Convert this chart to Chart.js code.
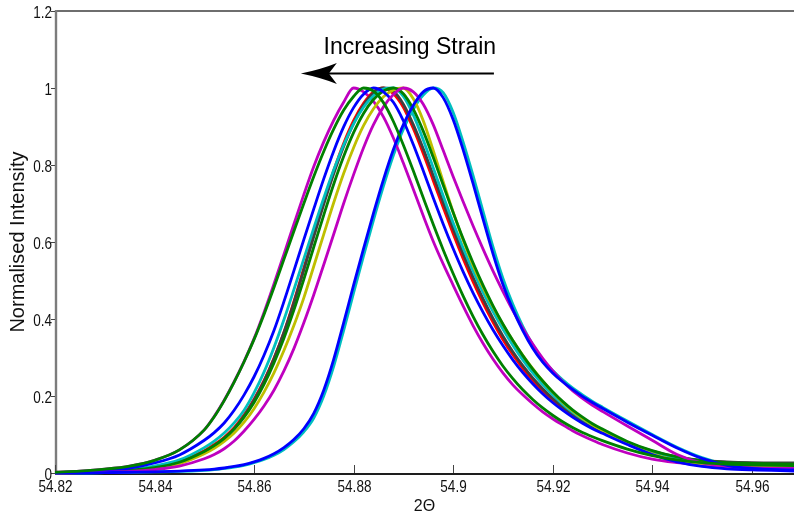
<!DOCTYPE html>
<html>
<head>
<meta charset="utf-8">
<script src="https://cdn.jsdelivr.net/npm/chart.js@4.4.0/dist/chart.umd.min.js"></script>
<style>
  html, body { margin: 0; padding: 0; background: #ffffff; }
  #wrap { width: 794px; height: 518px; }
</style>
</head>
<body>
<div id="wrap"><canvas id="chart" width="794" height="518"></canvas></div>
<script>
// 2-theta sampling positions (degrees)
const twoTheta = [
  54.820, 54.825, 54.830, 54.835, 54.840, 54.845,
  54.850, 54.852, 54.854, 54.856, 54.858, 54.860, 54.862, 54.864, 54.866, 54.868,
  54.870, 54.872, 54.874, 54.876, 54.878, 54.880, 54.882, 54.884, 54.886, 54.888,
  54.890, 54.892, 54.894, 54.896, 54.898, 54.900, 54.902, 54.904, 54.906, 54.908,
  54.910, 54.912, 54.914, 54.916, 54.918, 54.920, 54.922, 54.924, 54.926, 54.928,
  54.930, 54.935, 54.940, 54.945, 54.950, 54.955, 54.960, 54.9685
];

// Normalised peak profiles, one array per scan
const scanMagentaA = [
  0.002,0.005,0.010,0.018,0.033,0.060,
  0.112,0.147,0.189,0.237,0.290,0.349,0.417,0.491,0.568,0.646,
  0.723,0.796,0.860,0.916,0.963,1.000,0.990,0.965,0.925,0.870,
  0.805,0.737,0.668,0.602,0.543,0.488,0.434,0.383,0.337,0.296,
  0.260,0.229,0.203,0.180,0.159,0.141,0.125,0.110,0.097,0.085,
  0.074,0.052,0.036,0.027,0.021,0.017,0.014,0.012
];
const scanGreenA = [
  0.002,0.005,0.010,0.018,0.033,0.060,
  0.112,0.146,0.188,0.236,0.289,0.347,0.412,0.482,0.555,0.628,
  0.700,0.770,0.835,0.893,0.942,0.978,1.000,0.992,0.962,0.913,
  0.852,0.785,0.715,0.646,0.580,0.518,0.460,0.407,0.359,0.316,
  0.278,0.245,0.216,0.191,0.169,0.150,0.133,0.118,0.105,0.094,
  0.084,0.062,0.045,0.034,0.027,0.023,0.021,0.019
];
const scanBlueA = [
  0.001,0.003,0.006,0.013,0.026,0.047,
  0.085,0.105,0.130,0.163,0.203,0.250,0.306,0.370,0.445,0.525,
  0.606,0.686,0.764,0.836,0.899,0.949,0.984,1.000,0.990,0.963,
  0.915,0.853,0.785,0.715,0.647,0.583,0.523,0.468,0.418,0.372,
  0.331,0.294,0.261,0.232,0.206,0.183,0.163,0.145,0.129,0.115,
  0.103,0.074,0.048,0.029,0.017,0.011,0.008,0.005
];
const scanRed = [
  0.000,0.001,0.003,0.007,0.015,0.030,
  0.058,0.074,0.093,0.118,0.151,0.192,0.240,0.298,0.365,0.445,
  0.532,0.620,0.705,0.785,0.856,0.915,0.960,0.990,1.000,0.985,
  0.950,0.895,0.830,0.760,0.690,0.622,0.557,0.497,0.442,0.392,
  0.347,0.307,0.272,0.241,0.214,0.190,0.169,0.151,0.135,0.120,
  0.107,0.078,0.055,0.040,0.031,0.027,0.025,0.024
];
const scanGrey = [
  0.000,0.001,0.003,0.006,0.014,0.028,
  0.055,0.071,0.090,0.115,0.148,0.189,0.238,0.297,0.365,0.442,
  0.527,0.614,0.698,0.777,0.848,0.908,0.955,0.987,1.000,0.992,
  0.958,0.905,0.842,0.773,0.703,0.635,0.570,0.509,0.453,0.402,
  0.356,0.315,0.279,0.247,0.219,0.194,0.172,0.153,0.136,0.121,
  0.108,0.079,0.057,0.042,0.033,0.029,0.027,0.026
];
const scanCyanA = [
  0.000,0.002,0.004,0.009,0.018,0.034,
  0.066,0.083,0.104,0.130,0.163,0.208,0.262,0.326,0.398,0.476,
  0.556,0.636,0.714,0.787,0.852,0.907,0.950,0.980,0.997,1.000,
  0.978,0.930,0.865,0.793,0.720,0.650,0.585,0.525,0.470,0.420,
  0.374,0.332,0.294,0.260,0.230,0.203,0.179,0.158,0.140,0.125,
  0.111,0.080,0.055,0.038,0.028,0.023,0.020,0.018
];
const scanYellow = [
  0.000,0.001,0.002,0.005,0.012,0.024,
  0.050,0.064,0.082,0.104,0.132,0.167,0.210,0.260,0.318,0.383,
  0.455,0.537,0.620,0.702,0.778,0.845,0.902,0.946,0.977,0.995,
  1.000,0.972,0.915,0.838,0.757,0.678,0.605,0.540,0.483,0.432,
  0.386,0.344,0.306,0.271,0.239,0.210,0.184,0.161,0.142,0.125,
  0.111,0.078,0.050,0.033,0.024,0.020,0.018,0.016
];
const scanGreenB = [
  0.000,0.001,0.003,0.007,0.014,0.028,
  0.056,0.071,0.090,0.114,0.145,0.183,0.230,0.286,0.350,0.423,
  0.503,0.587,0.670,0.750,0.822,0.884,0.934,0.970,0.992,1.000,
  0.985,0.945,0.888,0.820,0.748,0.677,0.609,0.546,0.488,0.435,
  0.387,0.344,0.305,0.270,0.239,0.211,0.186,0.164,0.145,0.128,
  0.114,0.082,0.058,0.042,0.032,0.027,0.025,0.023
];
const scanMagentaB = [
  0.000,0.001,0.002,0.004,0.009,0.018,
  0.037,0.048,0.063,0.083,0.109,0.139,0.174,0.215,0.265,0.323,
  0.390,0.463,0.541,0.620,0.700,0.775,0.845,0.905,0.951,0.983,
  1.000,0.990,0.958,0.905,0.838,0.770,0.705,0.642,0.582,0.525,
  0.472,0.422,0.376,0.335,0.298,0.266,0.238,0.214,0.194,0.176,
  0.160,0.122,0.085,0.048,0.026,0.018,0.014,0.012
];
const scanBlueB = [
  0.000,0.000,0.001,0.002,0.003,0.005,
  0.008,0.010,0.013,0.017,0.022,0.029,0.038,0.050,0.066,0.087,
  0.115,0.155,0.215,0.295,0.390,0.488,0.583,0.675,0.762,0.840,
  0.905,0.955,0.990,1.000,0.975,0.918,0.840,0.752,0.660,0.570,
  0.490,0.425,0.370,0.324,0.288,0.260,0.237,0.217,0.199,0.183,
  0.168,0.132,0.098,0.065,0.038,0.020,0.012,0.008
];
const scanCyanB = [
  0.000,0.000,0.001,0.002,0.003,0.004,
  0.007,0.009,0.012,0.015,0.020,0.027,0.035,0.046,0.061,0.081,
  0.107,0.143,0.200,0.277,0.370,0.468,0.564,0.657,0.745,0.825,
  0.893,0.945,0.982,1.000,0.988,0.937,0.860,0.773,0.680,0.588,
  0.506,0.438,0.381,0.333,0.295,0.266,0.242,0.221,0.203,0.186,
  0.171,0.135,0.100,0.067,0.040,0.022,0.014,0.010
];

// Axis ticks
const xTicks = [54.82, 54.84, 54.86, 54.88, 54.90, 54.92, 54.94, 54.96];
const yTicks = [0, 0.2, 0.4, 0.6, 0.8, 1.0, 1.2];

// Annotation: strain direction arrow and caption (data coordinates)
const noteText = 'Increasing Strain';
const noteX = 54.8913, noteY = 1.088;
const arrowFrom = 54.9082, arrowTo = 54.8694, arrowY = 1.038;

// Scans listed bottom layer first
const layers = [
  { data: scanCyanB,    color: '#00bfbf' },
  { data: scanMagentaA, color: '#bf00bf' },
  { data: scanRed,      color: '#ff0000' },
  { data: scanGrey,     color: '#404040' },
  { data: scanCyanA,    color: '#00bfbf' },
  { data: scanYellow,   color: '#bfbf00' },
  { data: scanGreenB,   color: '#008000' },
  { data: scanBlueA,    color: '#0000ff' },
  { data: scanMagentaB, color: '#bf00bf' },
  { data: scanBlueB,    color: '#0000ff' },
  { data: scanGreenA,   color: '#008000' }
];

// Chart.js paints dataset 0 last, so reverse to keep the first layer at the bottom
const datasets = layers.slice().reverse().map(s => ({
  data: twoTheta.map((t, i) => ({ x: t, y: s.data[i] })),
  borderColor: s.color,
  backgroundColor: s.color,
  borderWidth: 2.8,
  pointRadius: 0,
  fill: false,
  cubicInterpolationMode: 'monotone',
  clip: false
}));

const fmt = v => String(+Number(v).toFixed(2));

// Narrow tick lettering: Liberation Sans squeezed horizontally
function narrowText(ctx, text, px, py, align) {
  ctx.save();
  ctx.translate(px, py);
  ctx.scale(0.82, 1);
  ctx.textAlign = align;
  ctx.fillText(text, 0, 0);
  ctx.restore();
}

const framePlugin = {
  id: 'frame',
  beforeDatasetsDraw(chart) {
    const { ctx, chartArea: a, scales: { x, y } } = chart;
    ctx.save();
    // top box edge
    ctx.strokeStyle = '#6e6e6e';
    ctx.lineWidth = 2;
    ctx.beginPath(); ctx.moveTo(a.left, a.top); ctx.lineTo(a.right, a.top); ctx.stroke();
    // left axis
    ctx.strokeStyle = '#7c7c7c';
    ctx.lineWidth = 2.4;
    ctx.beginPath(); ctx.moveTo(a.left + 1, a.top - 1); ctx.lineTo(a.left + 1, a.bottom + 1); ctx.stroke();
    // y tick marks (outside) and labels
    ctx.strokeStyle = '#444';
    ctx.lineWidth = 1;
    ctx.fillStyle = '#111';
    ctx.font = "16.5px 'Liberation Sans', Arial, sans-serif";
    ctx.textBaseline = 'alphabetic';
    yTicks.forEach(v => {
      const py = Math.round(y.getPixelForValue(v)) + 0.5;
      ctx.beginPath(); ctx.moveTo(a.left - 4, py); ctx.lineTo(a.left, py); ctx.stroke();
      narrowText(ctx, fmt(v), a.left - 3, py + 6, 'right');
    });
    // x tick marks (inside) and labels
    xTicks.forEach(v => {
      const px = Math.round(x.getPixelForValue(v)) + 0.5;
      ctx.beginPath(); ctx.moveTo(px, a.bottom); ctx.lineTo(px, a.bottom - 8); ctx.stroke();
      narrowText(ctx, fmt(v), px, a.bottom + 19, 'center');
    });
    // bottom axis
    ctx.strokeStyle = '#1e1e1e';
    ctx.lineWidth = 2;
    ctx.beginPath(); ctx.moveTo(a.left, a.bottom + 1); ctx.lineTo(a.right, a.bottom + 1); ctx.stroke();
    ctx.restore();
  },
  afterDatasetsDraw(chart) {
    const { ctx, scales: { x, y } } = chart;
    ctx.save();
    const tip = x.getPixelForValue(arrowTo);
    const tail = x.getPixelForValue(arrowFrom);
    const ay = Math.round(y.getPixelForValue(arrowY)) + 0.5;
    ctx.strokeStyle = '#000';
    ctx.lineWidth = 2;
    ctx.beginPath(); ctx.moveTo(tail, ay); ctx.lineTo(tip + 26, ay); ctx.stroke();
    ctx.fillStyle = '#000';
    ctx.beginPath();
    ctx.moveTo(tip, ay);
    ctx.quadraticCurveTo(tip + 20, ay - 4, tip + 36, ay - 10.5);
    ctx.lineTo(tip + 28, ay);
    ctx.lineTo(tip + 36, ay + 10.5);
    ctx.quadraticCurveTo(tip + 20, ay + 4, tip, ay);
    ctx.closePath();
    ctx.fill();
    ctx.font = "23px 'Liberation Sans', Arial, sans-serif";
    ctx.textAlign = 'center';
    ctx.textBaseline = 'alphabetic';
    ctx.fillText(noteText, x.getPixelForValue(noteX), y.getPixelForValue(noteY));
    ctx.restore();
  }
};

new Chart(document.getElementById('chart'), {
  type: 'line',
  data: { datasets },
  options: {
    responsive: false,
    animation: false,
    devicePixelRatio: 1,
    layout: { padding: { top: 11, right: 0, left: 0, bottom: 0 } },
    plugins: { legend: { display: false }, tooltip: { enabled: false } },
    scales: {
      x: {
        type: 'linear',
        min: 54.82,
        max: 54.9685,
        grid: { display: false, drawTicks: false },
        border: { display: false },
        afterBuildTicks: s => { s.ticks = xTicks.map(v => ({ value: v })); },
        afterFit: s => { s.height = 45; },
        ticks: { display: false },
        title: { display: true, text: '2\u0398', color: '#111', font: { family: "'Liberation Sans', Arial, sans-serif", size: 16 }, padding: { top: 0, bottom: 2 } }
      },
      y: {
        type: 'linear',
        min: 0,
        max: 1.2,
        grid: { display: false, drawTicks: false },
        border: { display: false },
        afterBuildTicks: s => { s.ticks = yTicks.map(v => ({ value: v })); },
        afterFit: s => { s.width = 55; },
        ticks: { display: false },
        title: { display: true, text: 'Normalised Intensity', color: '#111', font: { family: "'Liberation Sans', Arial, sans-serif", size: 20 }, padding: { top: 6, bottom: 0 } }
      }
    }
  },
  plugins: [framePlugin]
});
</script>
</body>
</html>
